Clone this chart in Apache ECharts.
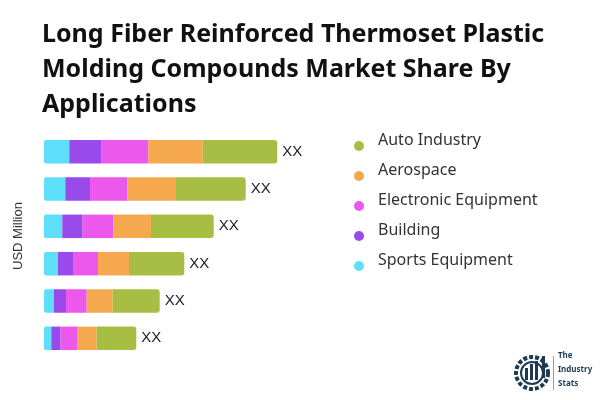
<!DOCTYPE html>
<html><head><meta charset="utf-8">
<script src="https://cdn.jsdelivr.net/npm/echarts@6/dist/echarts.min.js"></script>
<style>html,body{margin:0;padding:0;background:#fff}#c{width:600px;height:400px}</style>
</head><body><div id="c"></div>
<script>
const categories = ['2024','2023','2022','2021','2020','2019'];
const seriesNames = ['Sports Equipment','Building','Electronic Equipment','Aerospace','Auto Industry'];
const sportsEquipment = [25.3, 21.3, 18.3, 14, 10, 7.3];
const building = [32.4, 24.7, 20.3, 15, 12, 9.3];
const electronicEquipment = [46.6, 37.3, 30.7, 25, 20.7, 17];
const aerospace = [54.4, 48.7, 37.7, 31, 26, 19];
const autoIndustry = [74.6, 69.7, 62.7, 55.3, 47, 39.7];
const barLabel = 'XX';
const colors = ['#5EDFF9','#9A4AEB','#EC57EC','#F5A84D','#A8BD43'];
const allData = [sportsEquipment, building, electronicEquipment, aerospace, autoIndustry];

const chart = echarts.init(document.getElementById('c'), null, {renderer:'canvas'});
const series = seriesNames.map((n,i)=>({
  name:n, type:'bar', stack:'total', data: allData[i], barWidth: 23.5,
  itemStyle:{color:colors[i], borderRadius: i===4?[0,3,3,0]:(i===0?[2,0,0,2]:0)},
  label: i===4 ? {show:true, position:'right', distance:5, formatter: barLabel, color:'#222', fontSize:15, fontFamily:'Liberation Sans, Arial, sans-serif'} : {show:false},
  emphasis:{disabled:true}
}));
chart.setOption({
  animation:false,
  title:{text:'Long Fiber Reinforced Thermoset Plastic\nMolding Compounds Market Share By\nApplications', left:37, top:12,
    textStyle:{fontFamily:'Noto Sans, Open Sans, sans-serif', fontWeight:'bold', fontSize:25, lineHeight:35, color:'#111'}},
  legend:{orient:'vertical', left:349, top:127, itemGap:2, icon:'circle', itemWidth:10, itemHeight:10,
    data:['Auto Industry','Aerospace','Electronic Equipment','Building','Sports Equipment'],
    formatter: name => '{a|' + name + '}',
    textStyle:{rich:{a:{fontFamily:'Noto Sans, Open Sans, sans-serif', fontSize:16, color:'#333', lineHeight:19, padding:[0,0,12,9]}}}},
  grid:{left:44, top:133, width:300, height:224},
  xAxis:{type:'value', min:0, max:300, show:false},
  yAxis:{type:'category', data:categories, inverse:true, axisLine:{show:false}, axisTick:{show:false}, axisLabel:{show:false},
    name:'USD Million', nameLocation:'middle', nameGap:19, nameRotate:90,
    nameTextStyle:{fontFamily:'Liberation Sans, Arial, sans-serif', fontSize:13, color:'#333', padding:[0,0,0,18]}},
  series: series,
  graphic:[
    {type:'circle', shape:{cx:532, cy:373, r:16}, style:{fill:'none', stroke:'#1E3A52', lineWidth:4, lineDash:[4,2]}},
    {type:'circle', shape:{cx:532, cy:373, r:11}, style:{fill:'#fff', stroke:'#1E3A52', lineWidth:2}},
    {type:'rect', shape:{x:525, y:368, width:3, height:12}, style:{fill:'#1E3A52'}},
    {type:'rect', shape:{x:530, y:364, width:3, height:16}, style:{fill:'#1E3A52'}},
    {type:'rect', shape:{x:535, y:361, width:3, height:19}, style:{fill:'#1E3A52'}},
    {type:'rect', shape:{x:542, y:356, width:3, height:22}, style:{fill:'#1E3A52'}},
    {type:'rect', shape:{x:553, y:356, width:1, height:34}, style:{fill:'#999'}},
    {type:'text', left:558, top:352, style:{text:'The', font:'bold 8px Noto Sans, sans-serif', fill:'#1E3A52'}},
    {type:'text', left:558, top:366, style:{text:'Industry', font:'bold 8px Noto Sans, sans-serif', fill:'#1E3A52'}},
    {type:'text', left:558, top:380, style:{text:'Stats', font:'bold 8px Noto Sans, sans-serif', fill:'#1E3A52'}}
  ]
});
</script></body></html>
